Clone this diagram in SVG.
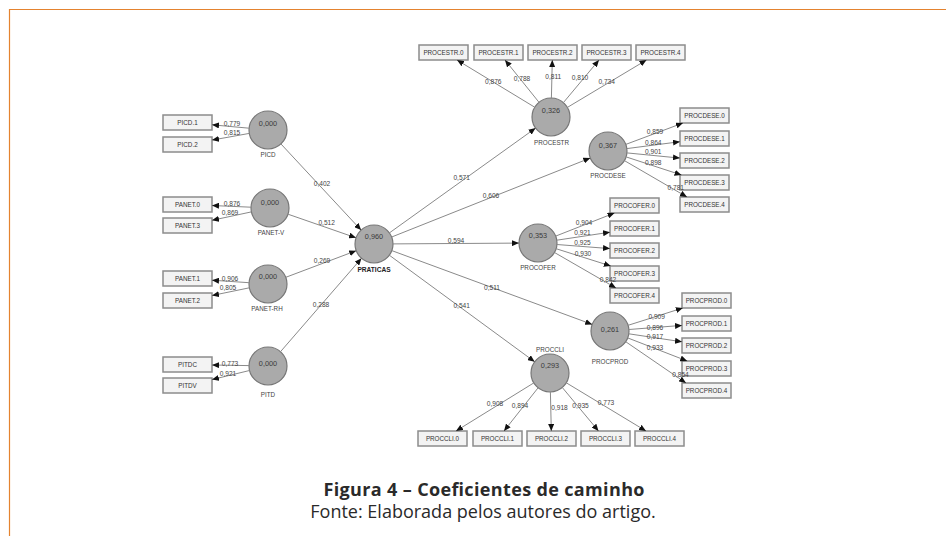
<svg xmlns="http://www.w3.org/2000/svg" width="946" height="536" viewBox="0 0 946 536">
<style>
.bg{fill:#ffffff}
.frame{stroke:#e4832f;stroke-width:1.2;fill:none}
.cn{stroke:#8a8a8a;stroke-width:1;fill:none;marker-end:url(#ah)}
.lv{fill:#aaaaaa;stroke:#777777;stroke-width:1.2}
.ind{fill:#f3f3f3;stroke:#8c8c8c;stroke-width:1.5}
.it{font-family:"Liberation Sans",Arial,sans-serif;font-size:6.3px;fill:#333;text-anchor:middle}
.val{font-family:"Liberation Sans",Arial,sans-serif;font-size:7.3px;fill:#3a3a3a;text-anchor:middle}
.nm{font-family:"Liberation Sans",Arial,sans-serif;font-size:6.3px;fill:#444;text-anchor:middle}
.nmb{font-family:"Liberation Sans",Arial,sans-serif;font-size:6.6px;font-weight:bold;fill:#222;text-anchor:middle}
.lb{font-family:"Liberation Sans",Arial,sans-serif;font-size:6.6px;fill:#444;text-anchor:middle}
.cap1{font-family:"Open Sans","Noto Sans",sans-serif;font-size:18px;font-weight:bold;fill:#2a2a2a;text-anchor:middle}
.cap2{font-family:"Open Sans","Noto Sans",sans-serif;font-size:18px;fill:#2a2a2a;text-anchor:middle}
</style>
<defs>
<marker id="ah" markerUnits="userSpaceOnUse" markerWidth="8" markerHeight="6" refX="7" refY="3" orient="auto">
<path d="M0,0 L7,3 L0,6 Z" fill="#111"/>
</marker>
</defs>
<rect class="bg" x="0" y="0" width="946" height="536"/>
<path class="frame" d="M9.5,536 L9.5,9.5 L946,9.5"/>

<g id="PICD"><circle class="lv" cx="268" cy="130" r="19"/><text class="val" x="268" y="126">0,000</text><text class="nm" x="268" y="157">PICD</text></g>
<g id="PANET-V"><circle class="lv" cx="270" cy="208" r="19"/><text class="val" x="270" y="204.5">0,000</text><text class="nm" x="271" y="235">PANET-V</text></g>
<g id="PANET-RH"><circle class="lv" cx="268" cy="284" r="19"/><text class="val" x="268" y="279">0,000</text><text class="nm" x="267" y="310.5">PANET-RH</text></g>
<g id="PITD"><circle class="lv" cx="268" cy="366" r="19"/><text class="val" x="268" y="366">0,000</text><text class="nm" x="268" y="397">PITD</text></g>
<g id="PRATICAS"><circle class="lv" cx="374" cy="244" r="19"/><text class="val" x="374" y="239.4">0,960</text><text class="nmb" x="374" y="271.5">PRATICAS</text></g>
<g id="PROCESTR"><circle class="lv" cx="551" cy="117" r="19"/><text class="val" x="551" y="112.7">0,326</text><text class="nm" x="551.5" y="144.5">PROCESTR</text></g>
<g id="PROCDESE"><circle class="lv" cx="608" cy="151" r="19"/><text class="val" x="608" y="147.7">0,367</text><text class="nm" x="608" y="178">PROCDESE</text></g>
<g id="PROCOFER"><circle class="lv" cx="538" cy="243" r="19"/><text class="val" x="538" y="237.7">0,353</text><text class="nm" x="538" y="269.5">PROCOFER</text></g>
<g id="PROCPROD"><circle class="lv" cx="610" cy="331" r="19"/><text class="val" x="610" y="332">0,261</text><text class="nm" x="610" y="364">PROCPROD</text></g>
<g id="PROCCLI"><circle class="lv" cx="550" cy="373" r="19"/><text class="val" x="550" y="368.4">0,293</text><text class="nm" x="550" y="352">PROCCLI</text></g>

<g id="PICD.1"><rect class="ind" x="163" y="115" width="49" height="15"/><text class="it" x="187.5" y="124.7">PICD.1</text></g>
<g id="PICD.2"><rect class="ind" x="163" y="137" width="49" height="15"/><text class="it" x="187.5" y="146.7">PICD.2</text></g>
<g id="PANET.0"><rect class="ind" x="163" y="197" width="49" height="15"/><text class="it" x="187.5" y="206.7">PANET.0</text></g>
<g id="PANET.3"><rect class="ind" x="163" y="218" width="49" height="15"/><text class="it" x="187.5" y="227.7">PANET.3</text></g>
<g id="PANET.1"><rect class="ind" x="163" y="271" width="49" height="15"/><text class="it" x="187.5" y="280.7">PANET.1</text></g>
<g id="PANET.2"><rect class="ind" x="163" y="293" width="49" height="15"/><text class="it" x="187.5" y="302.7">PANET.2</text></g>
<g id="PITDC"><rect class="ind" x="163" y="357" width="49" height="15"/><text class="it" x="187.5" y="366.7">PITDC</text></g>
<g id="PITDV"><rect class="ind" x="163" y="378" width="49" height="15"/><text class="it" x="187.5" y="387.7">PITDV</text></g>

<g id="PROCESTR.0"><rect class="ind" x="419" y="45" width="49" height="15"/><text class="it" x="443.5" y="54.7">PROCESTR.0</text></g>
<g id="PROCESTR.1"><rect class="ind" x="474" y="45" width="49" height="15"/><text class="it" x="498.5" y="54.7">PROCESTR.1</text></g>
<g id="PROCESTR.2"><rect class="ind" x="528" y="45" width="49" height="15"/><text class="it" x="552.5" y="54.7">PROCESTR.2</text></g>
<g id="PROCESTR.3"><rect class="ind" x="582" y="45" width="49" height="15"/><text class="it" x="606.5" y="54.7">PROCESTR.3</text></g>
<g id="PROCESTR.4"><rect class="ind" x="636" y="45" width="49" height="15"/><text class="it" x="660.5" y="54.7">PROCESTR.4</text></g>

<g id="PROCDESE.0"><rect class="ind" x="680" y="108" width="49" height="15"/><text class="it" x="704.5" y="117.7">PROCDESE.0</text></g>
<g id="PROCDESE.1"><rect class="ind" x="680" y="131" width="49" height="15"/><text class="it" x="704.5" y="140.7">PROCDESE.1</text></g>
<g id="PROCDESE.2"><rect class="ind" x="680" y="153" width="49" height="15"/><text class="it" x="704.5" y="162.7">PROCDESE.2</text></g>
<g id="PROCDESE.3"><rect class="ind" x="680" y="175" width="49" height="15"/><text class="it" x="704.5" y="184.7">PROCDESE.3</text></g>
<g id="PROCDESE.4"><rect class="ind" x="680" y="197" width="49" height="15"/><text class="it" x="704.5" y="206.7">PROCDESE.4</text></g>

<g id="PROCOFER.0"><rect class="ind" x="610" y="198" width="49" height="15"/><text class="it" x="634.5" y="207.7">PROCOFER.0</text></g>
<g id="PROCOFER.1"><rect class="ind" x="610" y="221" width="49" height="15"/><text class="it" x="634.5" y="230.7">PROCOFER.1</text></g>
<g id="PROCOFER.2"><rect class="ind" x="610" y="243" width="49" height="15"/><text class="it" x="634.5" y="252.7">PROCOFER.2</text></g>
<g id="PROCOFER.3"><rect class="ind" x="610" y="266" width="49" height="15"/><text class="it" x="634.5" y="275.7">PROCOFER.3</text></g>
<g id="PROCOFER.4"><rect class="ind" x="610" y="288" width="49" height="15"/><text class="it" x="634.5" y="297.7">PROCOFER.4</text></g>

<g id="PROCPROD.0"><rect class="ind" x="682" y="293" width="49" height="15"/><text class="it" x="706.5" y="302.7">PROCPROD.0</text></g>
<g id="PROCPROD.1"><rect class="ind" x="682" y="316" width="49" height="15"/><text class="it" x="706.5" y="325.7">PROCPROD.1</text></g>
<g id="PROCPROD.2"><rect class="ind" x="682" y="338" width="49" height="15"/><text class="it" x="706.5" y="347.7">PROCPROD.2</text></g>
<g id="PROCPROD.3"><rect class="ind" x="682" y="361" width="49" height="15"/><text class="it" x="706.5" y="370.7">PROCPROD.3</text></g>
<g id="PROCPROD.4"><rect class="ind" x="682" y="383" width="49" height="15"/><text class="it" x="706.5" y="392.7">PROCPROD.4</text></g>

<g id="PROCCLI.0"><rect class="ind" x="418" y="431" width="49" height="15"/><text class="it" x="442.5" y="440.7">PROCCLI.0</text></g>
<g id="PROCCLI.1"><rect class="ind" x="473" y="431" width="49" height="15"/><text class="it" x="497.5" y="440.7">PROCCLI.1</text></g>
<g id="PROCCLI.2"><rect class="ind" x="527" y="431" width="49" height="15"/><text class="it" x="551.5" y="440.7">PROCCLI.2</text></g>
<g id="PROCCLI.3"><rect class="ind" x="581" y="431" width="49" height="15"/><text class="it" x="605.5" y="440.7">PROCCLI.3</text></g>
<g id="PROCCLI.4"><rect class="ind" x="635" y="431" width="49" height="15"/><text class="it" x="659.5" y="440.7">PROCCLI.4</text></g>

<g id="connectors">
<path class="cn" d="M249.1,128.2 L212,124.8"/>
<path class="cn" d="M249.3,133.4 L212,140.1"/>
<path class="cn" d="M251,207.2 L212,205.5"/>
<path class="cn" d="M251.4,211.9 L212,220.3"/>
<path class="cn" d="M249,282.7 L212,280.2"/>
<path class="cn" d="M249.4,287.8 L212,295.5"/>
<path class="cn" d="M249,365.6 L212,365"/>
<path class="cn" d="M249.5,370.5 L212,379.6"/>
<path class="cn" d="M280.9,143.9 L361.1,230.1"/>
<path class="cn" d="M288,214.2 L356,237.8"/>
<path class="cn" d="M285.8,277.3 L356.2,250.7"/>
<path class="cn" d="M280.5,351.7 L361.5,258.3"/>
<path class="cn" d="M389.4,232.9 L535.6,128.1"/>
<path class="cn" d="M391.7,237 L590.3,158"/>
<path class="cn" d="M393,243.9 L519,243.1"/>
<path class="cn" d="M391.8,250.6 L592.2,324.4"/>
<path class="cn" d="M389.3,255.2 L534.7,361.8"/>
<path class="cn" d="M534.7,107.2 L457,60"/>
<path class="cn" d="M539,102.3 L505,60"/>
<path class="cn" d="M551.4,98 L552.3,60"/>
<path class="cn" d="M563.4,102.6 L599,60"/>
<path class="cn" d="M567.4,107.4 L646.5,60"/>
<path class="cn" d="M625.8,144.4 L683,123"/>
<path class="cn" d="M626.8,148.6 L680,141.7"/>
<path class="cn" d="M626.9,152.9 L680,158.1"/>
<path class="cn" d="M626.1,156.9 L681.5,175"/>
<path class="cn" d="M624.4,160.6 L687,197"/>
<path class="cn" d="M555.7,236.1 L614.5,213"/>
<path class="cn" d="M556.8,240.2 L610,232.2"/>
<path class="cn" d="M556.9,244.5 L610,248.6"/>
<path class="cn" d="M556.1,248.7 L610.8,266"/>
<path class="cn" d="M554.5,252.5 L616,288"/>
<path class="cn" d="M628.1,325.3 L682.8,308"/>
<path class="cn" d="M628.9,329.5 L682,325.4"/>
<path class="cn" d="M628.8,333.8 L682,341.8"/>
<path class="cn" d="M627.7,337.9 L687.2,361"/>
<path class="cn" d="M625.7,341.7 L686,383"/>
<path class="cn" d="M533.8,382.9 L456,431"/>
<path class="cn" d="M538.1,387.8 L504,431"/>
<path class="cn" d="M550.4,392 L551.3,431"/>
<path class="cn" d="M562.3,387.5 L598.5,431"/>
<path class="cn" d="M566.3,382.8 L646,431"/>
<text class="lb" x="232" y="125.7">0,779</text>
<text class="lb" x="232" y="134.9">0,815</text>
<text class="lb" x="232" y="205.7">0,876</text>
<text class="lb" x="230" y="214.7">0,869</text>
<text class="lb" x="230" y="280.5">0,906</text>
<text class="lb" x="228" y="290">0,805</text>
<text class="lb" x="230" y="366">0,773</text>
<text class="lb" x="228" y="376">0,921</text>
<text class="lb" x="322" y="185.7">0,402</text>
<text class="lb" x="326.7" y="225.4">0,512</text>
<text class="lb" x="322" y="263.4">0,269</text>
<text class="lb" x="321" y="306.7">0,288</text>
<text class="lb" x="461.7" y="180">0,571</text>
<text class="lb" x="491" y="197.7">0,606</text>
<text class="lb" x="456" y="243.4">0,594</text>
<text class="lb" x="492" y="290">0,511</text>
<text class="lb" x="461.7" y="307.7">0,541</text>
<text class="lb" x="493.3" y="84.4">0,876</text>
<text class="lb" x="522" y="81">0,788</text>
<text class="lb" x="553.3" y="79.4">0,811</text>
<text class="lb" x="580" y="80.4">0,810</text>
<text class="lb" x="606.7" y="83.7">0,734</text>
<text class="lb" x="655" y="134.4">0,859</text>
<text class="lb" x="653.3" y="145">0,864</text>
<text class="lb" x="653.3" y="154.4">0,901</text>
<text class="lb" x="653.3" y="165.4">0,898</text>
<text class="lb" x="675.8" y="190">0,781</text>
<text class="lb" x="584" y="225">0,904</text>
<text class="lb" x="582.5" y="235.4">0,921</text>
<text class="lb" x="582.5" y="245.4">0,925</text>
<text class="lb" x="583" y="256">0,930</text>
<text class="lb" x="608" y="282">0,842</text>
<text class="lb" x="656.7" y="319.4">0,909</text>
<text class="lb" x="655" y="330.4">0,896</text>
<text class="lb" x="655" y="339.4">0,917</text>
<text class="lb" x="655" y="350.4">0,933</text>
<text class="lb" x="680.5" y="376.7">0,854</text>
<text class="lb" x="495" y="406">0,908</text>
<text class="lb" x="520" y="408.4">0,894</text>
<text class="lb" x="559.5" y="410.4">0,918</text>
<text class="lb" x="580.5" y="408.4">0,935</text>
<text class="lb" x="606" y="405.4">0,773</text>
</g>

<g id="caption">
<text class="cap1" x="484" y="495.5" textLength="321" lengthAdjust="spacing">Figura 4 – Coeficientes de caminho</text>
<text class="cap2" x="483" y="518">Fonte: Elaborada pelos autores do artigo.</text>
</g>
</svg>
